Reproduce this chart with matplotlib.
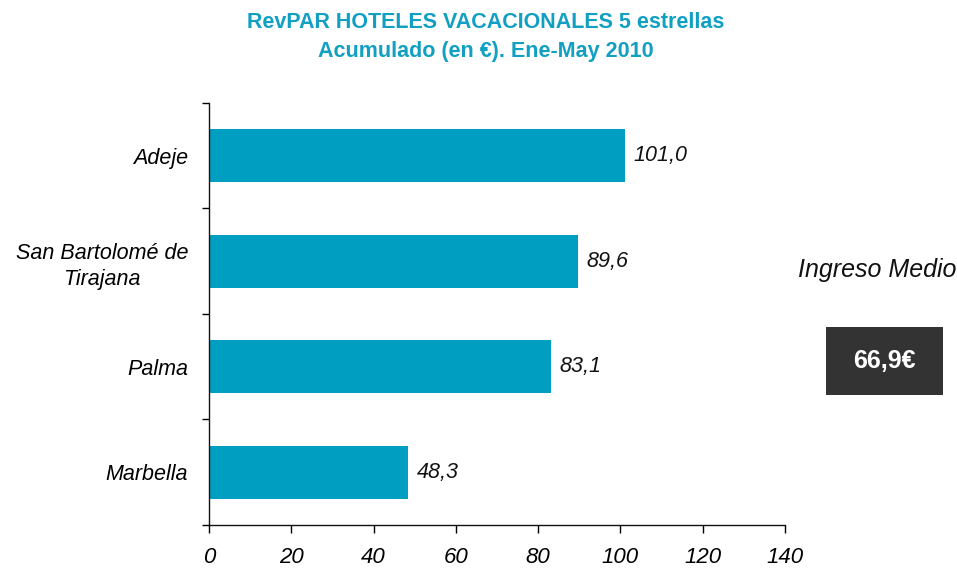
import matplotlib.pyplot as plt
import numpy as np
from matplotlib.patches import Rectangle

# RevPAR values by destination (bottom to top order as drawn)
destinos = ["Marbella", "Palma", "San Bartolomé de\nTirajana", "Adeje"]
revpar = [48.3, 83.1, 89.6, 101.0]
ingreso_medio = 66.9
x_ticks = [0, 20, 40, 60, 80, 100, 120, 140]

plt.rcParams["font.family"] = ["Liberation Sans", "DejaVu Sans"]

BAR_COLOR = "#009EC1"
TITLE_COLOR = "#119FC2"

fig = plt.figure(figsize=(9.57, 5.68), dpi=100)
ax = fig.add_axes([0.2184, 0.0757, 0.6019, 0.743])

y = np.arange(len(destinos))
ax.barh(y, revpar, height=0.5, color=BAR_COLOR)

for yi, v in zip(y, revpar):
    ax.text(v + 2.1, yi, f"{v:.1f}".replace(".", ","), va="center", ha="left",
            fontsize=15.5, style="italic", color="#111111")

ax.set_xlim(0, 140)
ax.set_ylim(-0.5, len(destinos) - 0.5)
ax.set_xticks(x_ticks)
ax.set_xticklabels([str(t) for t in x_ticks], fontsize=16, style="italic")
ax.set_yticks(y)
ax.set_yticklabels(destinos, fontsize=15.5, style="italic", multialignment="center",
                   linespacing=1.3)
ax.set_yticks(np.arange(-0.5, len(destinos)), minor=True)
ax.tick_params(axis="y", which="major", length=0, pad=15)
ax.tick_params(axis="y", which="minor", length=5, direction="out", width=1)
ax.tick_params(axis="x", which="major", length=6, direction="out", width=1, pad=10)

for side in ["top", "right"]:
    ax.spines[side].set_visible(False)
for side in ["left", "bottom"]:
    ax.spines[side].set_linewidth(1)
    ax.spines[side].set_color("#111111")

fig.text(0.508, 0.961, "RevPAR HOTELES VACACIONALES 5 estrellas", ha="center", va="center",
         fontsize=15.5, fontweight="bold", color=TITLE_COLOR)
fig.text(0.508, 0.910, "Acumulado (en €). Ene-May 2010", ha="center", va="center",
         fontsize=15.5, fontweight="bold", color=TITLE_COLOR)

# Average income box on the right
fig.text(0.917, 0.524, "Ingreso Medio", ha="center", va="center",
         fontsize=18, style="italic", color="#111111")
fig.patches.append(Rectangle((0.863, 0.305), 0.122, 0.120, transform=fig.transFigure,
                             facecolor="#333333", edgecolor="none"))
fig.text(0.924, 0.365, f"{ingreso_medio:.1f}€".replace(".", ","), ha="center", va="center",
         fontsize=18, fontweight="bold", color="white")

fig.savefig("out.png", dpi=100)
